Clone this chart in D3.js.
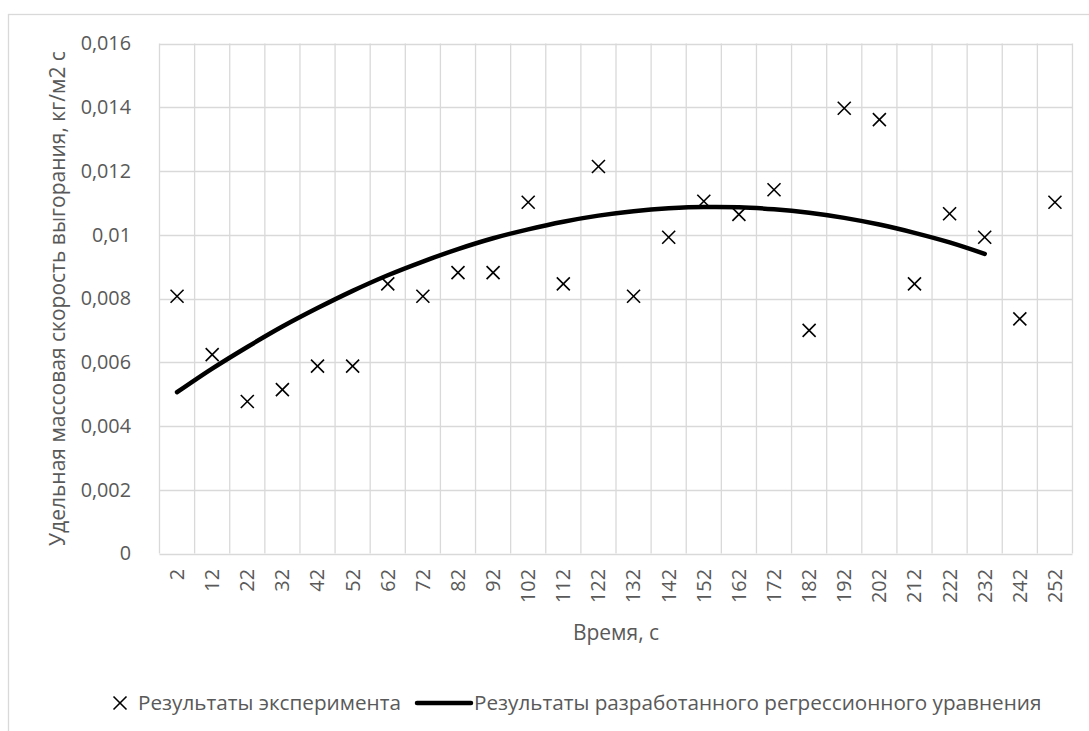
<!DOCTYPE html>
<html><head><meta charset="utf-8">
<script src="https://cdn.jsdelivr.net/npm/d3@7"></script>
<style>
html,body{margin:0;padding:0;background:#fff;}
text{font-family:"Open Sans","Noto Sans",sans-serif;fill:#595959;}
</style></head>
<body>
<svg id="chart" width="1089" height="731"></svg>
<script>
const categories = ["2","12","22","32","42","52","62","72","82","92","102","112","122","132","142","152","162","172","182","192","202","212","222","232","242","252"];
const experiment = [0.00807,0.00624,0.00477,0.00514,0.00588,0.00588,0.00846,0.00807,0.00881,0.00881,0.01102,0.00846,0.01214,0.00807,0.00992,0.01105,0.01064,0.01141,0.00700,0.01397,0.01361,0.00846,0.01066,0.00992,0.00736,0.01102];
const regression = [0.00506,0.00580,0.00648,0.00712,0.00770,0.00824,0.00873,0.00916,0.00955,0.00989,0.01017,0.01041,0.01060,0.01074,0.01083,0.01087,0.01086,0.01080,0.01069,0.01053,0.01032,0.01006,0.00976,0.00940];
const yTicks = [0,0.002,0.004,0.006,0.008,0.01,0.012,0.014,0.016];
const yTickLabels = ["0","0,002","0,004","0,006","0,008","0,01","0,012","0,014","0,016"];
const seriesNames = ["Результаты эксперимента","Результаты разработанного регрессионного уравнения"];
const xTitle = "Время, с";
const yTitle = "Удельная массовая скорость выгорания, кг/м2 с";

const svg = d3.select("#chart");
const L = 159.5, R = 1072.5, T = 43.5, B = 553.5;
const x = d3.scaleBand().domain(categories).range([L, R]).padding(0);
const y = d3.scaleLinear().domain([0, 0.016]).range([B, T]);

// chart area border
svg.append("rect").attr("x",8.5).attr("y",14.5).attr("width",1200).attr("height",800)
  .attr("fill","#fff").attr("stroke","#d9d9d9").attr("stroke-width",1.3);

// horizontal gridlines
svg.append("g").selectAll("line").data(yTicks).join("line")
  .attr("x1",L).attr("x2",R).attr("y1",d=>Math.round(y(d))+0.5).attr("y2",d=>Math.round(y(d))+0.5)
  .attr("stroke","#d9d9d9").attr("stroke-width",1.3);
// vertical gridlines at category boundaries
const bounds = categories.map(c=>x(c)).concat([R]);
svg.append("g").selectAll("line").data(bounds).join("line")
  .attr("x1",d=>d).attr("x2",d=>d).attr("y1",T).attr("y2",B)
  .attr("stroke","#d9d9d9").attr("stroke-width",1.3);

// y tick labels
svg.append("g").selectAll("text").data(yTicks).join("text")
  .attr("x",131).attr("y",d=>y(d)).attr("dy","0.35em").attr("text-anchor","end")
  .attr("font-size",19.8).text((d,i)=>yTickLabels[i]);

// x tick labels
svg.append("g").selectAll("text").data(categories).join("text")
  .attr("transform",d=>`translate(${x(d)+x.bandwidth()/2},569) rotate(-90)`)
  .attr("dy","0.35em").attr("text-anchor","end").attr("font-size",19.8).text(d=>d);

// axis titles
svg.append("text").attr("x",(L+R)/2).attr("y",640).attr("text-anchor","middle")
  .attr("font-size",21).text(xTitle);
svg.append("text").attr("transform",`translate(65,${(T+B)/2}) rotate(-90)`)
  .attr("text-anchor","middle").attr("font-size",21).text(yTitle);

// regression line
const line = d3.line().x((d,i)=>x(categories[i])+x.bandwidth()/2).y(d=>y(d)).curve(d3.curveMonotoneX);
svg.append("path").datum(regression).attr("d",line).attr("fill","none")
  .attr("stroke","#000").attr("stroke-width",4.5).attr("stroke-linecap","round").attr("stroke-linejoin","round");

// experiment markers
const m = 6.5;
const cross = (g)=>{
  g.append("line").attr("x1",-m).attr("y1",-m).attr("x2",m).attr("y2",m);
  g.append("line").attr("x1",-m).attr("y1",m).attr("x2",m).attr("y2",-m);
};
svg.append("g").selectAll("g").data(experiment).join("g")
  .attr("transform",(d,i)=>`translate(${x(categories[i])+x.bandwidth()/2},${y(d)})`)
  .attr("stroke","#000").attr("stroke-width",1.6)
  .each(function(){cross(d3.select(this));});

// legend
const ly = 703;
const lg1 = svg.append("g").attr("transform",`translate(120,${ly})`).attr("stroke","#000").attr("stroke-width",1.6);
cross(lg1);
svg.append("text").attr("x",138).attr("y",ly).attr("dy","0.35em").attr("font-size",20.7).text(seriesNames[0]);
svg.append("line").attr("x1",417).attr("x2",471).attr("y1",ly).attr("y2",ly)
  .attr("stroke","#000").attr("stroke-width",4.5).attr("stroke-linecap","round");
svg.append("text").attr("x",474).attr("y",ly).attr("dy","0.35em").attr("font-size",20.7).text(seriesNames[1]);
</script>
</body></html>
